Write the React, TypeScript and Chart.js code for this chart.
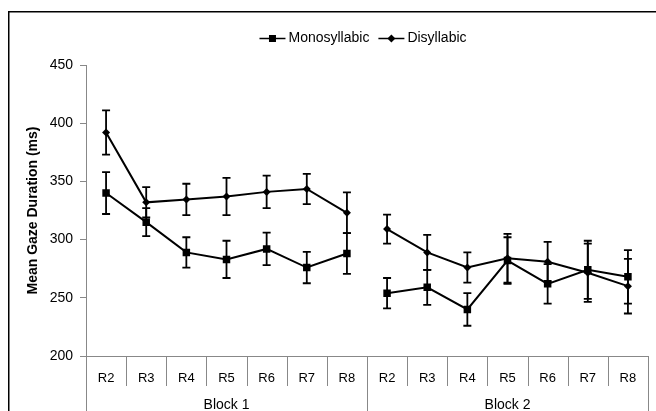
import React, { useEffect, useRef } from 'react';
import { Chart, registerables } from 'chart.js';

Chart.register(...registerables);

const roundLabels = ['R2', 'R3', 'R4', 'R5', 'R6', 'R7', 'R8', 'R2', 'R3', 'R4', 'R5', 'R6', 'R7', 'R8'];
const blockLabels = ['Block 1', 'Block 2'];
const blockSizes = [7, 7];
const seriesNames = ['Monosyllabic', 'Disyllabic'];
const monoValues = [340, 315, 289, 283, 292, 276, 288, 254, 259, 240, 282, 262, 274, 268];
const monoErrors = [18, 12, 13, 16, 14, 13.5, 17.5, 13, 15, 14, 20, 17, 25, 23];
const disValues = [392, 332, 334.5, 337, 341, 343.5, 323, 309, 289, 276, 284, 281, 271.5, 260];
const disErrors = [19, 13, 13.5, 16, 14, 13, 17.5, 12.5, 15, 13, 21, 17, 25, 23.5];
const yTicks = { min: 200, max: 450, step: 50 };
const yTitle = 'Mean Gaze Duration (ms)';

const FONT = "'Liberation Sans', Arial, sans-serif";
const AXIS_GRAY = '#888888';

const breakIndices = (() => {
  const out: number[] = [];
  let acc = 0;
  for (let i = 0; i < blockSizes.length - 1; i++) {
    acc += blockSizes[i];
    out.push(acc - 1);
  }
  return out;
})();

const frameAndAxisPlugin = {
  id: 'frameAndAxis',
  beforeDraw(chart: any) {
    const ctx = chart.ctx;
    ctx.save();
    ctx.strokeStyle = '#000';
    ctx.lineWidth = 1.5;
    ctx.strokeRect(8.75, 11.75, 900, 900);
    ctx.restore();
  },
  afterDraw(chart: any) {
    const ctx = chart.ctx;
    const xs = chart.scales.x;
    const area = chart.chartArea;
    const n = roundLabels.length;
    const w = (area.right - area.left) / n;
    ctx.save();
    ctx.strokeStyle = AXIS_GRAY;
    ctx.lineWidth = 1;
    // boundaries
    const longIdx = new Set<number>([0]);
    let acc = 0;
    blockSizes.forEach((s) => {
      acc += s;
      longIdx.add(acc);
    });
    for (let i = 0; i <= n; i++) {
      const x = Math.round(xs.getPixelForValue(0) - w / 2 + i * w) + 0.5;
      const yEnd = longIdx.has(i) ? chart.height : area.bottom + 30;
      ctx.beginPath();
      ctx.moveTo(x, area.bottom);
      ctx.lineTo(x, yEnd);
      ctx.stroke();
    }
    // block labels
    ctx.fillStyle = '#000';
    ctx.font = `14px ${FONT}`;
    ctx.textAlign = 'center';
    ctx.textBaseline = 'middle';
    let start = 0;
    blockSizes.forEach((s, b) => {
      const x0 = xs.getPixelForValue(start) - w / 2;
      const x1 = xs.getPixelForValue(start + s - 1) + w / 2;
      ctx.fillText(blockLabels[b], (x0 + x1) / 2, 405);
      start += s;
    });
    // legend
    const styles = ['rect', 'rectRot'];
    ctx.font = `14px ${FONT}`;
    const lineLen = 26;
    const gapAfterLine = 3;
    const gapBetween = 9;
    const widths = seriesNames.map((t) => ctx.measureText(t).width);
    const total = widths.reduce((a, b) => a + b, 0) + seriesNames.length * (lineLen + gapAfterLine) + gapBetween * (seriesNames.length - 1);
    let x = (area.left + area.right) / 2 - total / 2 - 4;
    const ly = 38.5;
    seriesNames.forEach((name, i) => {
      ctx.strokeStyle = '#000';
      ctx.lineWidth = 1.5;
      ctx.beginPath();
      ctx.moveTo(x, ly);
      ctx.lineTo(x + lineLen, ly);
      ctx.stroke();
      ctx.fillStyle = '#000';
      const cx = x + lineLen / 2;
      if (styles[i] === 'rect') {
        ctx.fillRect(cx - 3.5, ly - 3.5, 7, 7);
      } else {
        ctx.beginPath();
        ctx.moveTo(cx, ly - 4);
        ctx.lineTo(cx + 4, ly);
        ctx.lineTo(cx, ly + 4);
        ctx.lineTo(cx - 4, ly);
        ctx.closePath();
        ctx.fill();
      }
      ctx.textAlign = 'left';
      ctx.textBaseline = 'middle';
      ctx.fillText(name, x + lineLen + gapAfterLine, ly);
      x += lineLen + gapAfterLine + widths[i] + gapBetween;
    });
    ctx.restore();
  },
};

const errorBarPlugin = {
  id: 'errorBars',
  beforeDatasetsDraw(chart: any) {
    const ctx = chart.ctx;
    const ys = chart.scales.y;
    ctx.save();
    ctx.strokeStyle = '#000';
    ctx.lineWidth = 1.8;
    chart.data.datasets.forEach((ds: any, di: number) => {
      const meta = chart.getDatasetMeta(di);
      ds.errors.forEach((e: number, j: number) => {
        const v = ds.data[j];
        const pt = meta.data[j];
        if (v == null || !pt) return;
        const x = pt.x;
        const yt = ys.getPixelForValue(v + e);
        const yb = ys.getPixelForValue(v - e);
        ctx.beginPath();
        ctx.moveTo(x, yt);
        ctx.lineTo(x, yb);
        ctx.moveTo(x - 4, yt);
        ctx.lineTo(x + 4, yt);
        ctx.moveTo(x - 4, yb);
        ctx.lineTo(x + 4, yb);
        ctx.stroke();
      });
    });
    ctx.restore();
  },
};

export default function App() {
  const ref = useRef<HTMLCanvasElement | null>(null);
  useEffect(() => {
    if (!ref.current) return;
    const seg = {
      borderColor: (c: any) => (breakIndices.includes(c.p0DataIndex) ? 'rgba(0,0,0,0)' : '#000'),
    };
    const chart = new Chart(ref.current, {
      type: 'line',
      data: {
        labels: roundLabels,
        datasets: [
          {
            label: seriesNames[0],
            data: monoValues,
            errors: monoErrors,
            borderColor: '#000',
            backgroundColor: '#000',
            borderWidth: 2,
            pointStyle: 'rect',
            pointRadius: 5.3,
            pointBorderWidth: 0,
            tension: 0,
            segment: seg,
          } as any,
          {
            label: seriesNames[1],
            data: disValues,
            errors: disErrors,
            borderColor: '#000',
            backgroundColor: '#000',
            borderWidth: 2,
            pointStyle: 'rectRot',
            pointRadius: 4,
            pointBorderWidth: 0,
            tension: 0,
            segment: seg,
          } as any,
        ],
      },
      options: {
        responsive: false,
        animation: false,
        events: [],
        layout: { padding: { left: 20, right: 8, top: 65, bottom: 0 } },
        plugins: {
          legend: { display: false },
          tooltip: { enabled: false },
        },
        scales: {
          x: {
            type: 'category',
            offset: true,
            grid: { display: false, drawTicks: false },
            border: { display: true, color: AXIS_GRAY, width: 1 },
            ticks: {
              color: '#000',
              font: { family: FONT, size: 13 },
              padding: 15,
              maxRotation: 0,
              autoSkip: false,
            },
            afterFit: (s: any) => {
              s.height = 55;
            },
          },
          y: {
            min: yTicks.min,
            max: yTicks.max,
            ticks: {
              stepSize: yTicks.step,
              color: '#000',
              font: { family: FONT, size: 14 },
              padding: 7,
            },
            grid: { drawOnChartArea: false, drawTicks: true, tickLength: 6, color: AXIS_GRAY },
            border: { display: true, color: AXIS_GRAY, width: 1 },
            title: {
              display: true,
              text: yTitle,
              color: '#000',
              font: { family: FONT, size: 14, weight: 'bold' },
              padding: { top: 5, bottom: 0 },
            },
            afterFit: (s: any) => {
              s.width = 66;
            },
          },
        },
      } as any,
      plugins: [frameAndAxisPlugin, errorBarPlugin],
    });
    return () => chart.destroy();
  }, []);
  return (
    <div style={{ position: 'fixed', left: 0, top: 0, width: 656, height: 411, overflow: 'hidden', background: '#fff' }}>
      <canvas ref={ref} width={656} height={411} style={{ display: 'block' }} />
    </div>
  );
}
